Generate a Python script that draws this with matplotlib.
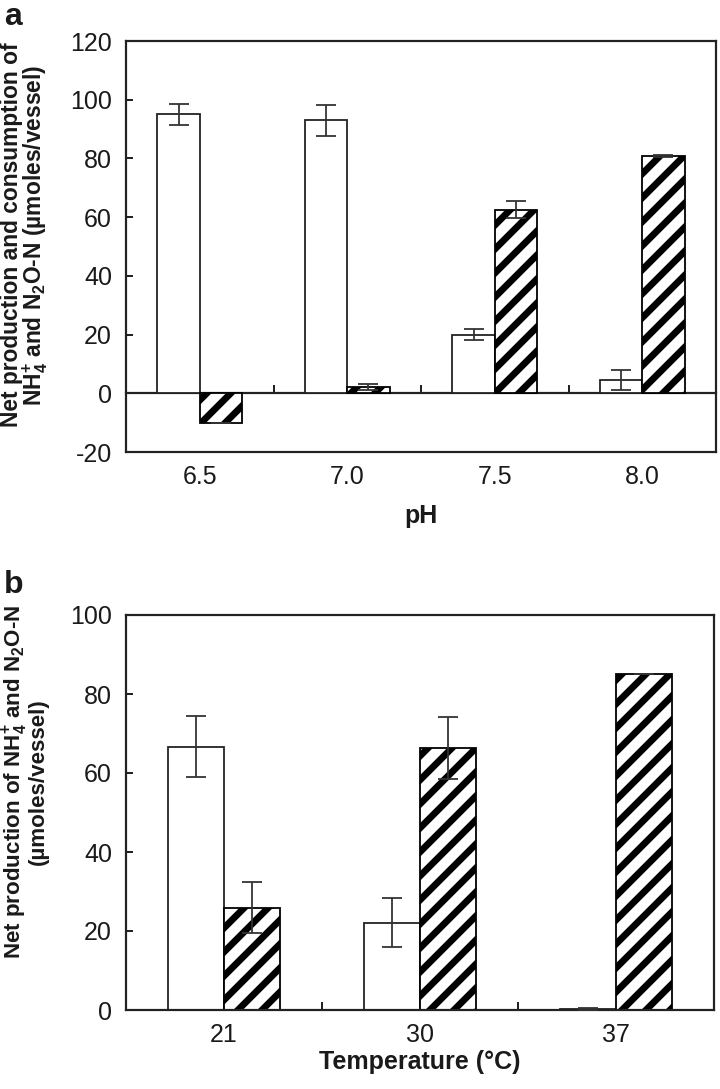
import matplotlib
matplotlib.use('Agg')
import matplotlib.pyplot as plt
import numpy as np

# ---- data (panel a: pH) ----
ph_labels = ['6.5', '7.0', '7.5', '8.0']
ph_nh4 = [95.0, 93.0, 20.0, 4.5]
ph_nh4_err = [3.5, 5.2, 2.0, 3.5]
ph_n2o = [-10.0, 2.0, 62.5, 80.7]
ph_n2o_err = [0.0, 1.0, 2.9, 0.3]

# ---- data (panel b: temperature) ----
temp_labels = ['21', '30', '37']
temp_nh4 = [66.7, 22.1, 0.3]
temp_nh4_err = [7.7, 6.2, 0.3]
temp_n2o = [25.9, 66.3, 85.0]
temp_n2o_err = [6.4, 7.9, 0.0]

plt.rcParams['font.family'] = ['Liberation Sans', 'DejaVu Sans']
plt.rcParams['mathtext.fontset'] = 'custom'
plt.rcParams['mathtext.rm'] = 'Liberation Sans'
plt.rcParams['mathtext.bf'] = 'Liberation Sans:bold'
plt.rcParams['axes.unicode_minus'] = False
plt.rcParams['hatch.linewidth'] = 3.4
plt.rcParams['hatch.color'] = 'black'

DPI = 144
fig = plt.figure(figsize=(720 / DPI, 1089 / DPI), dpi=DPI)

EDGE = '#222222'
TXT = '#1a1a1a'
FS = 12.5


def draw(ax, labels, nh4, nh4e, n2o, n2oe, ylim, ystep, zero_line):
    x = np.arange(len(labels))
    w = 0.287
    ax.bar(x - w / 2, nh4, w, color='white', edgecolor=EDGE, linewidth=0.9, zorder=2)
    ax.bar(x + w / 2, n2o, w, color='white', edgecolor='black', hatch='//',
           linewidth=0.9, zorder=2)
    ax.errorbar(x - w / 2, nh4, yerr=nh4e, fmt='none', ecolor='#333333',
                elinewidth=0.9, capsize=5, capthick=0.9, zorder=4)
    ax.errorbar(x + w / 2, n2o, yerr=n2oe, fmt='none', ecolor='#333333',
                elinewidth=0.9, capsize=5, capthick=0.9, zorder=4)
    ax.set_xlim(-0.5, len(labels) - 0.5)
    ax.set_ylim(*ylim)
    ax.set_yticks(np.arange(ylim[0], ylim[1] + 0.1, ystep))
    ax.set_xticks(x, labels)
    ax.tick_params(axis='x', which='major', length=0, pad=6.5, labelsize=FS,
                   labelcolor=TXT)
    ax.tick_params(axis='y', direction='in', length=3.5, width=1.0, pad=7,
                   labelsize=FS, labelcolor=TXT, color=EDGE)
    for s in ax.spines.values():
        s.set_linewidth(1.1)
        s.set_color(EDGE)
    bounds = np.arange(len(labels) - 1) + 0.5
    if zero_line:
        sec = ax.secondary_xaxis(0, transform=ax.transData)
        sec.set_xticks(bounds, [''] * len(bounds))
        sec.tick_params(direction='in', length=4, width=1.0, color=EDGE)
        sec.spines['bottom'].set_linewidth(1.1)
        sec.spines['bottom'].set_color(EDGE)
    else:
        ax.set_xticks(bounds, minor=True)
        ax.tick_params(axis='x', which='minor', direction='in', length=4,
                       width=1.0, color=EDGE)


# panel a
ax1 = fig.add_axes([126 / 720, 1 - 452 / 1089, 590 / 720, 411 / 1089])
draw(ax1, ph_labels, ph_nh4, ph_nh4_err, ph_n2o, ph_n2o_err, (-20, 120), 20, True)
ax1.set_xlabel('pH', fontsize=FS, fontweight='bold', color=TXT, labelpad=7.5)

# panel b
ax2 = fig.add_axes([126 / 720, 1 - 1010 / 1089, 588 / 720, 395 / 1089])
draw(ax2, temp_labels, temp_nh4, temp_nh4_err, temp_n2o, temp_n2o_err, (0, 100), 20, False)
ax2.set_xlabel('Temperature (°C)', fontsize=FS, fontweight='bold', color=TXT, labelpad=1.5)

fig.text(25 / 720, 1 - 235 / 1089,
         'Net production and consumption of\n'
         r'NH$_{\mathbf{4}}^{\mathbf{+}}$ and N$_{\mathbf{2}}$O-N (µmoles/vessel)',
         rotation=90, ha='center', va='center', multialignment='center',
         fontsize=11.4, fontweight='bold', color=TXT, linespacing=0.9)
fig.text(25 / 720, 1 - 782 / 1089,
         r'Net production of NH$_{\mathbf{4}}^{\mathbf{+}}$ and N$_{\mathbf{2}}$O-N'
         '\n(µmoles/vessel)',
         rotation=90, ha='center', va='center', multialignment='center',
         fontsize=11.2, fontweight='bold', color=TXT, linespacing=0.9)

fig.text(4 / 720, 1 - 2 / 1089, 'a', ha='left', va='top', fontsize=16,
         fontweight='bold', color=TXT)
fig.text(4 / 720, 1 - 570 / 1089, 'b', ha='left', va='top', fontsize=16,
         fontweight='bold', color=TXT)

fig.savefig('out.png', dpi=DPI, facecolor='white')
